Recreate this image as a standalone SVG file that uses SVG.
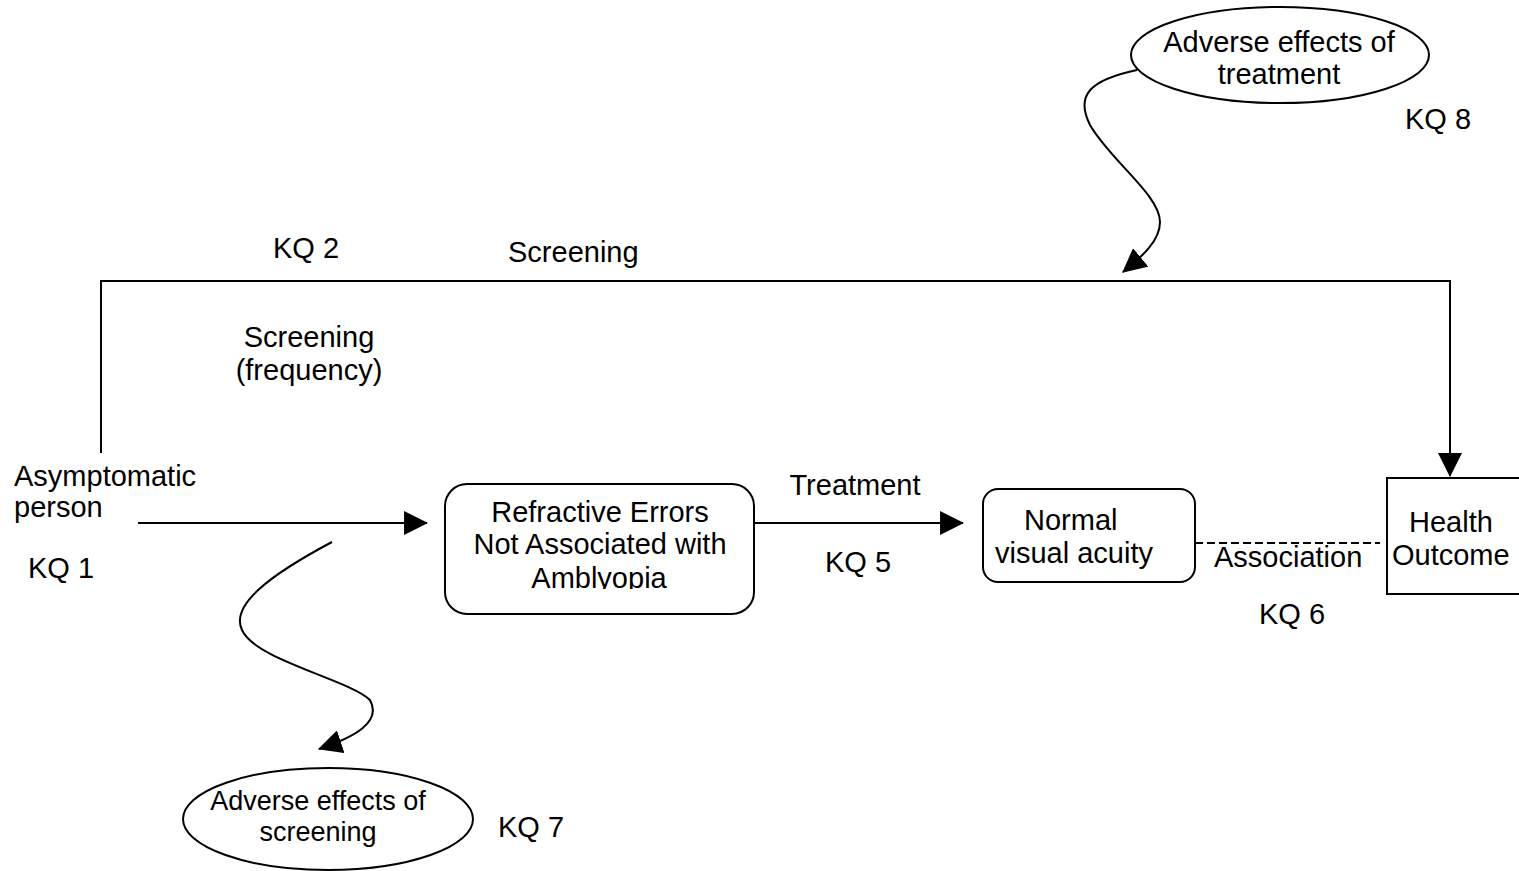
<svg xmlns="http://www.w3.org/2000/svg" width="1519" height="871" viewBox="0 0 1519 871">
<style>
text{font-family:"Liberation Sans",Arial,sans-serif;font-size:29px;fill:#000}
.c{text-anchor:middle}
.sm{font-size:27px}
.ln{fill:none;stroke:#000;stroke-width:2}
.box{fill:#fff;stroke:#000;stroke-width:2}
</style>
<defs>
<marker id="ah" markerUnits="userSpaceOnUse" markerWidth="24" markerHeight="24" viewBox="0 0 22 22" refX="21" refY="11" orient="auto">
<path d="M0,0 L22,11 L0,22 Z" fill="#000"/>
</marker>
<clipPath id="clipRef"><rect x="440" y="480" width="320" height="109"/></clipPath>
</defs>
<rect width="1519" height="871" fill="#fff"/>
<g id="connectors">
<path class="ln" d="M101,453 L101,281 L1450,281 L1450,476" marker-end="url(#ah)"/>
<path class="ln" d="M138,523 L427,523" marker-end="url(#ah)"/>
<path class="ln" d="M754,523 L963,523" marker-end="url(#ah)"/>
<path class="ln" d="M1195,543 L1380,543" stroke-dasharray="8,4"/>
<path class="ln" d="M1137,70 C1090,80 1075,95 1090,125 C1110,160 1160,195 1160,222 C1160,242 1140,258 1123,272" marker-end="url(#ah)"/>
<path class="ln" d="M332,542 C270,575 230,605 242,630 C255,660 350,680 370,700 C382,722 355,737 319,749" marker-end="url(#ah)"/>
</g>
<g id="labels">
<text class="c" x="306" y="258">KQ 2</text>
<text x="508" y="262">Screening</text>
<text class="c" x="309" y="347">Screening</text>
<text class="c" x="309" y="380">(frequency)</text>
<text x="28" y="578">KQ 1</text>
<text class="c" x="855" y="495">Treatment</text>
<text class="c" x="858" y="572">KQ 5</text>
<text x="1214" y="567">Association</text>
<text class="c" x="1292" y="624">KQ 6</text>
<text x="1405" y="129">KQ 8</text>
<text x="498" y="837">KQ 7</text>
</g>
<g id="asymptomatic">
<text x="14" y="486">Asymptomatic</text>
<text x="14" y="517">person</text>
</g>
<g id="refractive">
<rect class="box" x="445" y="484" width="309" height="130" rx="22"/>
<g clip-path="url(#clipRef)">
<text class="c" x="600" y="522">Refractive Errors</text>
<text class="c" x="600" y="554">Not Associated with</text>
<text class="c" x="599" y="588">Amblyopia</text>
</g>
</g>
<g id="normal">
<rect class="box" x="983" y="489" width="212" height="93" rx="15"/>
<text x="1024" y="530">Normal</text>
<text x="995" y="563">visual acuity</text>
</g>
<g id="health">
<rect class="box" x="1387" y="478" width="140" height="116"/>
<text x="1409" y="532">Health</text>
<text x="1392" y="565">Outcome</text>
</g>
<g id="adverse-treatment">
<ellipse class="box" cx="1280" cy="55" rx="149" ry="48"/>
<text class="c" x="1279" y="52">Adverse effects of</text>
<text class="c" x="1279" y="84">treatment</text>
</g>
<g id="adverse-screening">
<ellipse class="box" cx="328" cy="819" rx="145" ry="51"/>
<text class="c sm" x="318" y="810">Adverse effects of</text>
<text class="c sm" x="318" y="841">screening</text>
</g>
</svg>
